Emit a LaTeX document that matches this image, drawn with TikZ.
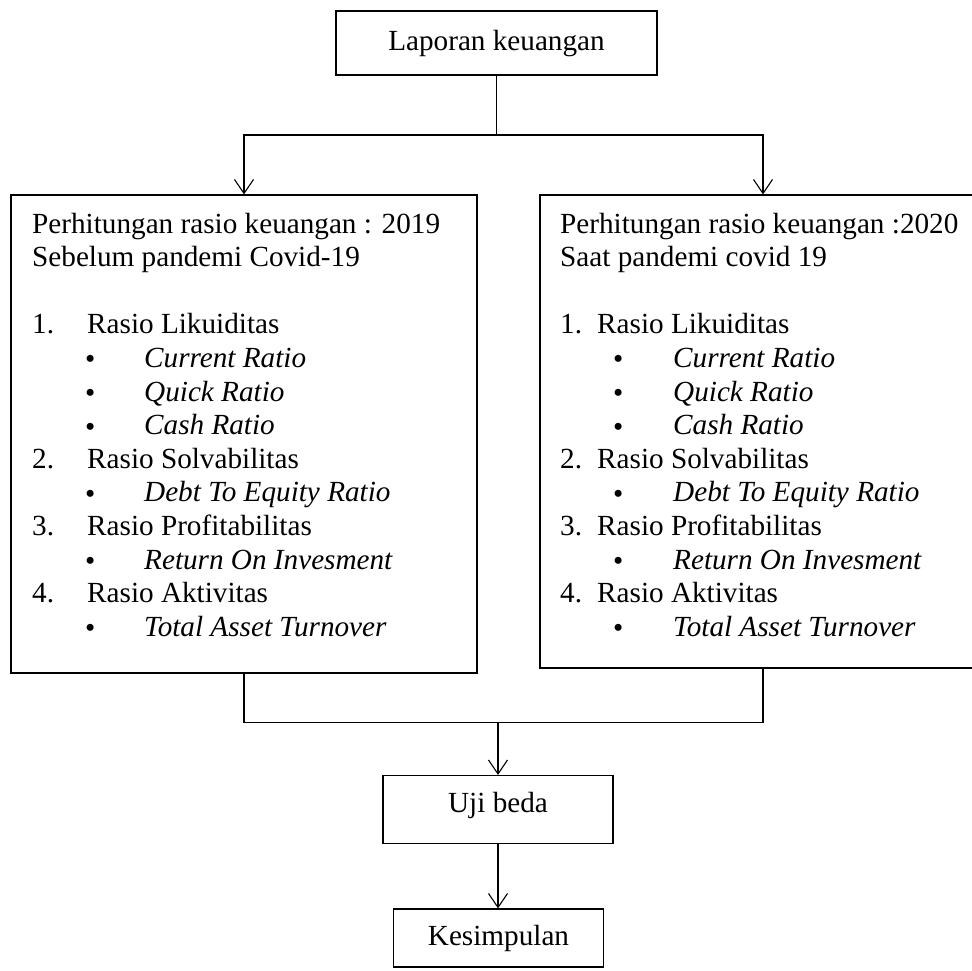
\documentclass[tikz,border=0pt]{standalone}
\usepackage{fontspec}
\setmainfont{Liberation Serif}
\usetikzlibrary{arrows.meta}
\newcommand\tnr{\fontsize{29.2}{33.6}\selectfont}
\newcommand\mybul{\raisebox{-1.5pt}{\textbullet}}
\begin{document}
\begin{tikzpicture}[x=1pt,y=-1pt,
  box/.style={draw, line width=1.1pt, inner sep=0pt},
  txt/.style={anchor=base west, inner sep=0pt, font=\tnr},
  ctr/.style={anchor=base, inner sep=0pt, font=\tnr},
  conn/.style={line width=1.1pt},
  arr/.style={conn, -{Straight Barb[length=14pt,width=19pt,line width=1.1pt]}}]
\useasboundingbox (0,0) rectangle (972,970);

% boxes
\node[box, minimum width=321pt, minimum height=64pt] (lap) at (496.5,43) {};
\node[box, minimum width=466pt, minimum height=478pt] (left) at (244,434) {};
\node[box, minimum width=446pt, minimum height=473pt] (right) at (763,431.5) {};
\node[box, minimum width=230pt, minimum height=68pt] (uji) at (498,809.5) {};
\node[box, minimum width=210pt, minimum height=58pt] (kes) at (498.5,938) {};

% box texts
\node[ctr] (lapt) at (496.5,50) {Laporan keuangan};
\node[ctr] (ujit) at (498,812.5) {Uji beda};
\node[ctr] (kest) at (498.5,945) {Kesimpulan};

% left box content
\node[txt] (l1) at (32,233) {Perhitungan rasio keuangan : 2019};
\node[txt] (l2) at (32,266.6) {Sebelum pandemi Covid-19};
\node[txt] (l3n) at (32,333.8) {1.};
\node[txt] (l3) at (87,333.8) {Rasio Likuiditas};
\node[txt] (l4b) at (85,367.4) {\mybul};
\node[txt] (l4) at (144,367.4) {\itshape Current Ratio};
\node[txt] (l5b) at (85,401) {\mybul};
\node[txt] (l5) at (144,401) {\itshape Quick Ratio};
\node[txt] (l6b) at (85,434.6) {\mybul};
\node[txt] (l6) at (144,434.6) {\itshape Cash Ratio};
\node[txt] (l7n) at (32,468.2) {2.};
\node[txt] (l7) at (87,468.2) {Rasio Solvabilitas};
\node[txt] (l8b) at (85,501.8) {\mybul};
\node[txt] (l8) at (144,501.8) {\itshape Debt To Equity Ratio};
\node[txt] (l9n) at (32,535.4) {3.};
\node[txt] (l9) at (87,535.4) {Rasio Profitabilitas};
\node[txt] (l10b) at (85,569) {\mybul};
\node[txt] (l10) at (144,569) {\itshape Return On Invesment};
\node[txt] (l11n) at (32,602.6) {4.};
\node[txt] (l11) at (87,602.6) {Rasio Aktivitas};
\node[txt] (l12b) at (85,636.2) {\mybul};
\node[txt] (l12) at (144,636.2) {\itshape Total Asset Turnover};

% right box content
\node[txt] (r1) at (560,233) {Perhitungan rasio keuangan :2020};
\node[txt] (r2) at (560,266.6) {Saat pandemi covid 19};
\node[txt] (r3n) at (560,333.8) {1.};
\node[txt] (r3) at (597,333.8) {Rasio Likuiditas};
\node[txt] (r4b) at (613,367.4) {\mybul};
\node[txt] (r4) at (673,367.4) {\itshape Current Ratio};
\node[txt] (r5b) at (613,401) {\mybul};
\node[txt] (r5) at (673,401) {\itshape Quick Ratio};
\node[txt] (r6b) at (613,434.6) {\mybul};
\node[txt] (r6) at (673,434.6) {\itshape Cash Ratio};
\node[txt] (r7n) at (560,468.2) {2.};
\node[txt] (r7) at (597,468.2) {Rasio Solvabilitas};
\node[txt] (r8b) at (613,501.8) {\mybul};
\node[txt] (r8) at (673,501.8) {\itshape Debt To Equity Ratio};
\node[txt] (r9n) at (560,535.4) {3.};
\node[txt] (r9) at (597,535.4) {Rasio Profitabilitas};
\node[txt] (r10b) at (613,569) {\mybul};
\node[txt] (r10) at (673,569) {\itshape Return On Invesment};
\node[txt] (r11n) at (560,602.6) {4.};
\node[txt] (r11) at (597,602.6) {Rasio Aktivitas};
\node[txt] (r12b) at (613,636.2) {\mybul};
\node[txt] (r12) at (673,636.2) {\itshape Total Asset Turnover};

% connectors
\coordinate (split) at (496.5,135);
\draw[conn] (lap.south) -- (split);
\draw[arr] (split) -| (left.north);
\draw[arr] (split) -| (right.north);

\coordinate (merge) at (498,722.5);
\draw[conn] (left.south) |- (merge);
\draw[conn] (right.south) |- (merge);
\draw[arr] (merge) -- (uji.north);
\draw[arr] (uji.south) -- (uji.south |- kes.north);
\end{tikzpicture}
\end{document}
